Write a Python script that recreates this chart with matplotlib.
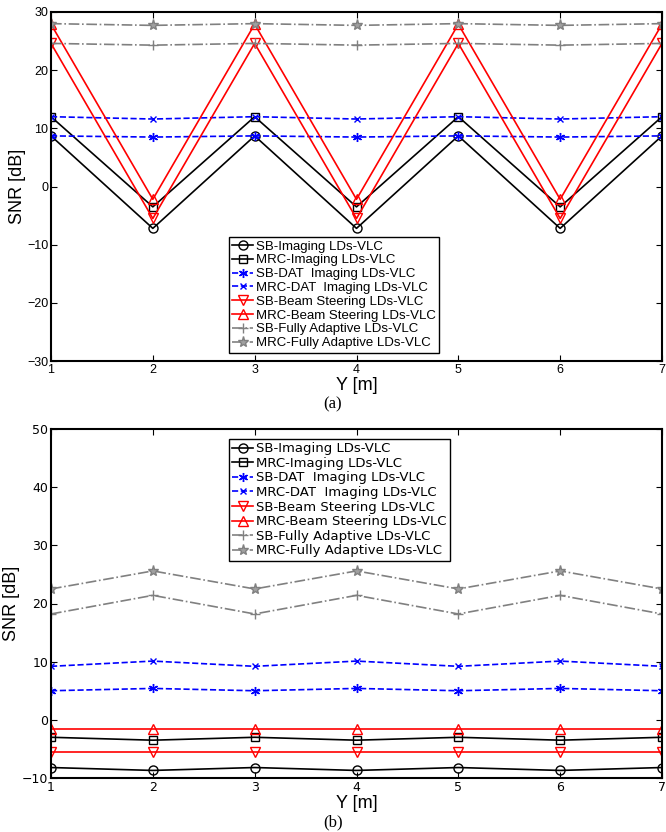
import matplotlib
matplotlib.use("Agg")
import matplotlib.pyplot as plt

y_pos = [1, 2, 3, 4, 5, 6, 7]
labels = ["SB-Imaging LDs-VLC", "MRC-Imaging LDs-VLC", "SB-DAT  Imaging LDs-VLC",
          "MRC-DAT  Imaging LDs-VLC", "SB-Beam Steering LDs-VLC", "MRC-Beam Steering LDs-VLC",
          "SB-Fully Adaptive LDs-VLC", "MRC-Fully Adaptive LDs-VLC"]

# panel (a)
a_sb_img = [8.7, -7.2, 8.7, -7.2, 8.7, -7.2, 8.7]
a_mrc_img = [12.0, -3.5, 12.0, -3.5, 12.0, -3.5, 12.0]
a_sb_dat = [8.7, 8.5, 8.7, 8.5, 8.7, 8.5, 8.7]
a_mrc_dat = [12.0, 11.6, 12.0, 11.6, 12.0, 11.6, 12.0]
a_sb_bs = [24.6, -5.5, 24.6, -5.5, 24.6, -5.5, 24.6]
a_mrc_bs = [27.9, -2.2, 27.9, -2.2, 27.9, -2.2, 27.9]
a_sb_fa = [24.6, 24.3, 24.6, 24.3, 24.6, 24.3, 24.6]
a_mrc_fa = [28.0, 27.7, 28.0, 27.7, 28.0, 27.7, 28.0]

# panel (b)
b_sb_img = [-8.2, -8.7, -8.2, -8.7, -8.2, -8.7, -8.2]
b_mrc_img = [-3.0, -3.5, -3.0, -3.5, -3.0, -3.5, -3.0]
b_sb_dat = [5.0, 5.4, 5.0, 5.4, 5.0, 5.4, 5.0]
b_mrc_dat = [9.2, 10.1, 9.2, 10.1, 9.2, 10.1, 9.2]
b_sb_bs = [-5.6, -5.6, -5.6, -5.6, -5.6, -5.6, -5.6]
b_mrc_bs = [-1.5, -1.5, -1.5, -1.5, -1.5, -1.5, -1.5]
b_sb_fa = [18.2, 21.4, 18.2, 21.4, 18.2, 21.4, 18.2]
b_mrc_fa = [22.5, 25.6, 22.5, 25.6, 22.5, 25.6, 22.5]

styles = [
    dict(color="black", ls="-", marker="o", mfc="none", ms=6.5),
    dict(color="black", ls="-", marker="s", mfc="none", ms=6),
    dict(color="blue", ls="--", marker=(6, 2, 0), mfc="none", ms=6.5),
    dict(color="blue", ls="--", marker="x", mfc="none", ms=5),
    dict(color="red", ls="-", marker="v", mfc="none", ms=7),
    dict(color="red", ls="-", marker="^", mfc="none", ms=7),
    dict(color="#808080", ls="-.", marker="+", mfc="none", ms=7),
    dict(color="#808080", ls="-.", marker="*", mfc="#a0a0a0", ms=8),
]

fig = plt.figure(figsize=(6.66, 8.32), dpi=100)
W, H = 666, 832

def make_axes(top_px, bot_px):
    return fig.add_axes([51 / W, 1 - bot_px / H, 611 / W, (bot_px - top_px) / H])

def draw(ax, series, ylim, yticks, leg_top_px, font):
    for s, lab, st in zip(series, labels, styles):
        ax.plot(y_pos, s, label=lab, lw=1.2, mew=1.0, **st)
    ax.set_xlim(1, 7)
    ax.set_ylim(*ylim)
    ax.set_xticks(y_pos)
    ax.set_yticks(yticks)
    ax.tick_params(direction="in", length=4, width=0.8, top=True, right=True,
                   labelsize=9, pad=2)
    for t in ax.get_xticklabels() + ax.get_yticklabels():
        t.set_family(font)
    for sp in ax.spines.values():
        sp.set_linewidth(1.5)
    ax.set_ylabel("SNR [dB]", fontsize=13, family="Liberation Sans", labelpad=1)
    ax.set_xlabel("Y [m]", fontsize=13, family="Liberation Sans", labelpad=1)
    leg = ax.legend(loc="upper left", bbox_to_anchor=(229 / W, 1 - leg_top_px / H),
                    bbox_transform=fig.transFigure, borderaxespad=0, fancybox=False,
                    edgecolor="black", framealpha=1, handlelength=1.6,
                    handletextpad=0.2, labelspacing=0.12, borderpad=0.25,
                    prop=dict(family=font, size=9.5))
    leg.get_frame().set_linewidth(1.0)

ax1 = make_axes(12, 361)
draw(ax1, [a_sb_img, a_mrc_img, a_sb_dat, a_mrc_dat, a_sb_bs, a_mrc_bs, a_sb_fa, a_mrc_fa],
     (-30, 30), [-30, -20, -10, 0, 10, 20, 30], 237, "Liberation Sans")
fig.text(333 / W, 1 - 404 / H, "(a)", ha="center", va="center", fontsize=12,
         family="Liberation Serif")

ax2 = make_axes(429, 778)
draw(ax2, [b_sb_img, b_mrc_img, b_sb_dat, b_mrc_dat, b_sb_bs, b_mrc_bs, b_sb_fa, b_mrc_fa],
     (-10, 50), [-10, 0, 10, 20, 30, 40, 50], 439, "Liberation Sans Narrow")
fig.text(333 / W, 1 - 822 / H, "(b)", ha="center", va="center", fontsize=12,
         family="Liberation Serif")

fig.savefig("out.png", dpi=100)
